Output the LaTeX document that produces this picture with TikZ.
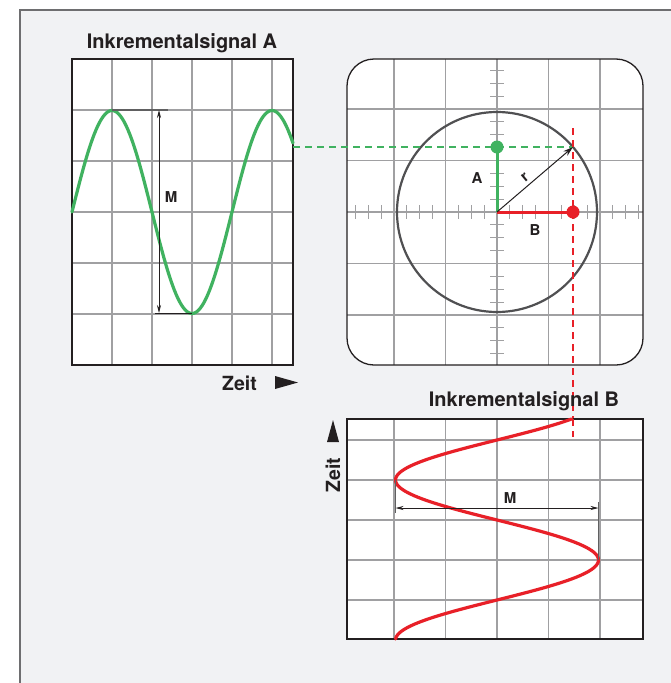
\documentclass[tikz,border=0pt]{standalone}
\definecolor{bggray}{RGB}{241,242,244}
\definecolor{framegray}{RGB}{110,110,112}
\definecolor{gridgray}{RGB}{160,160,162}
\definecolor{circlegray}{RGB}{80,80,82}
\definecolor{inkdark}{RGB}{35,31,32}
\definecolor{sigred}{RGB}{232,32,40}
\definecolor{siggreen}{RGB}{64,178,96}
\usepackage{fontspec}
\setmainfont{TeX Gyre Heros}
\usetikzlibrary{arrows.meta,positioning}

\begin{document}
\begin{tikzpicture}[x=1pt,y=-1pt,
    gridline/.style={gridgray, line width=1.1pt},
    tickline/.style={gridgray, line width=0.9pt},
    panelbox/.style={draw=inkdark, line width=1.3pt},
    sigline/.style={line width=3.2pt, line cap=round},
    dimline/.style={inkdark, line width=0.8pt,
      {Stealth[length=8pt,width=4pt]}-{Stealth[length=8pt,width=4pt]}},
    guide/.style={line width=1.1pt, dash pattern=on 7pt off 5pt},
    lbl/.style={font=\fontsize{15}{15}\selectfont\bfseries, text=inkdark, inner sep=0pt},
    zeittext/.style={font=\fontsize{19.5}{19.5}\selectfont\bfseries, text=inkdark, inner sep=0pt},
    titletext/.style={font=\fontsize{20}{20}\selectfont\bfseries, text=inkdark, inner sep=0pt}]
  \useasboundingbox (0,0) rectangle (671,683);
  \fill[white] (0,0) rectangle (671,683);
  \draw[framegray, fill=bggray, line width=1.5pt] (20,10) rectangle (700,710);

  % Inkrementalsignal A
  \fill[white] (72,59) rectangle (293,365);
  \foreach \x in {112,152,...,272} \draw[gridline] (\x,59) -- (\x,365);
  \foreach \y in {110,161,212,263,314} \draw[gridline] (72,\y) -- (293,\y);
  \draw[panelbox] (72,59) rectangle (293,365);
  \draw[siggreen, sigline] plot[domain=72:293, samples=150]
    (\x,{212-101.5*cos(2.25*(\x-112))});
  \coordinate (endA) at (293,147);
  \coordinate (topA) at (159,110);
  \coordinate (botA) at (159,313);
  \draw[gridgray!60!black, line width=1.2pt] (112,110) -- (168,110);
  \draw[inkdark, line width=1pt] (155,313) -- (192,313);
  \draw[dimline] (topA) -- (botA);
  \node[lbl] (mA) at (171,197) {M};
  \node[titletext] (titleA) at (182,43) {Inkrementalsignal A};
  \node[zeittext, anchor=west] (zeitA) at (222,383) {Zeit};
  \fill[inkdark] (275,376) -- (298,382.5) -- (275,389) -- cycle;

  % Kreisbild
  \coordinate (O) at (497,212);
  \fill[white, rounded corners=27pt] (347,59) rectangle (643,365);
  \begin{scope}
    \clip[rounded corners=27pt] (347,59) rectangle (643,365);
    \foreach \i in {-2,...,2} {
      \draw[gridline] (497+\i*51.5,59) -- (497+\i*51.5,365);
      \draw[gridline] (347,212+\i*51.5) -- (643,212+\i*51.5);
    }
    \foreach \i in {-11,...,11} {
      \draw[tickline] (497+\i*12.875,205) -- (497+\i*12.875,219);
      \draw[tickline] (490,212+\i*12.875) -- (504,212+\i*12.875);
    }
  \end{scope}
  \draw[panelbox, rounded corners=27pt] (347,59) rectangle (643,365);
  \draw[circlegray, line width=2.2pt] (O) circle (100);
  \coordinate (P) at (573,147);
  \coordinate (Adot) at (497,147);
  \coordinate (Bdot) at (573,212);
  \coordinate (redtop) at (573,128);
  \coordinate (redbot) at (573,437);
  \draw[siggreen, guide] (endA) -- (P);
  \draw[sigred, guide] (redtop) -- (redbot);
  \draw[siggreen, line width=3pt] (O) -- (Adot);
  \fill[siggreen] (Adot) circle (6.5);
  \draw[sigred, line width=3pt] (O) -- (Bdot);
  \fill[sigred] (Bdot) circle (6.5);
  \draw[inkdark, line width=1pt, -{Stealth[length=10pt,width=6pt]}] (O) -- (P);
  \node[lbl] (labA) at (477,178) {A};
  \node[lbl] (labB) at (535,230) {B};
  \node[lbl, rotate=40] (labr) at (525,177) {r};

  % Inkrementalsignal B
  \fill[white] (347,419) rectangle (643,639);
  \foreach \x in {394,445.5,497,548.5,600} \draw[gridline] (\x,419) -- (\x,639);
  \foreach \y in {440,480,520,560,600} \draw[gridline] (347,\y) -- (643,\y);
  \draw[panelbox] (347,419) rectangle (643,639);
  \draw[sigred, guide] (573,419) -- (redbot);
  \draw[sigred, sigline] plot[domain=419:639, samples=150]
    ({497+101.5*cos(2.25*(\x-560))},\x);
  \coordinate (leftB) at (395.5,508);
  \coordinate (rightB) at (598.5,508);
  \draw[gridgray!60!black, line width=1.2pt] (395.5,480) -- (395.5,513);
  \draw[gridgray!60!black, line width=1.2pt] (598.5,502) -- (598.5,560);
  \draw[dimline] (leftB) -- (rightB);
  \node[lbl] (mB) at (510,498) {M};
  \node[titletext] (titleB) at (524,401) {Inkrementalsignal B};
  \node[zeittext, rotate=90] (zeitB) at (333,475) {Zeit};
  \fill[inkdark] (327,442) -- (333,420) -- (339,442) -- cycle;
\end{tikzpicture}
\end{document}
